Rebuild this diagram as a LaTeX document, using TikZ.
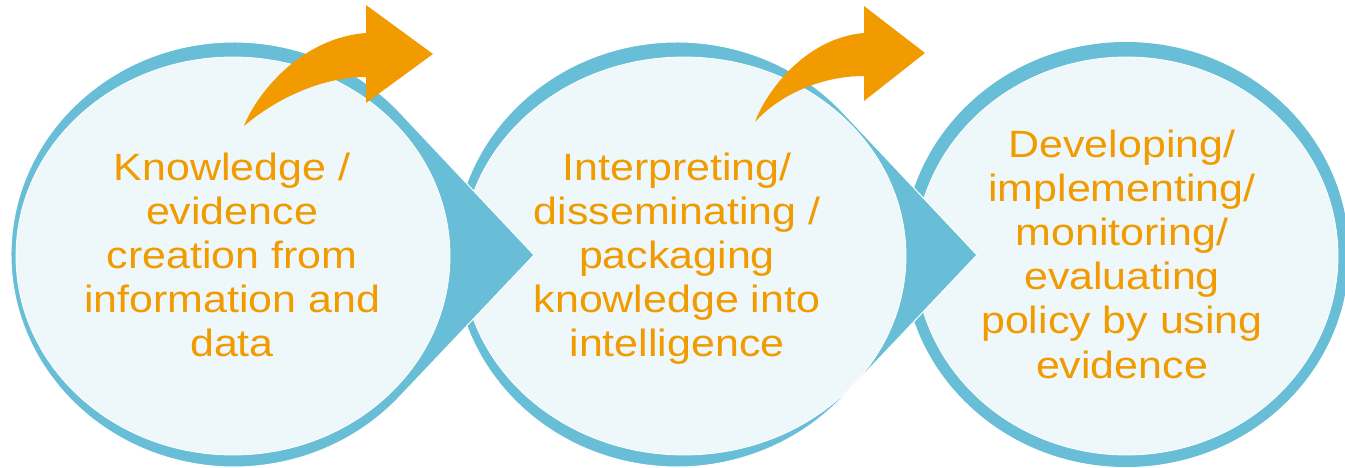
\documentclass[tikz,border=0pt]{standalone}
\usepackage{fontspec}
\usepackage{xcolor}
\newfontfamily\lblfont{Liberation Sans}[FakeStretch=1.13]
\definecolor{ringblue}{RGB}{103,190,214}
\definecolor{paleblue}{RGB}{238,247,250}
\definecolor{bendorange}{RGB}{242,155,0}
\tikzset{
  drop/.style={fill=ringblue, draw=white, line width=1pt},
  core/.style={fill=paleblue, draw=white, line width=0.8pt},
  bentarrow/.style={fill=bendorange},
  steptext/.style={anchor=north, inner sep=0pt, align=center, text=bendorange,
    font=\lblfont\fontsize{38}{44.2}\selectfont},
}

\begin{document}
\begin{tikzpicture}[x=1pt, y=-1pt]
\useasboundingbox (0,0) rectangle (1345,468);
% last step, a plain ring
\fill[ringblue] (1126,254.5) ellipse[x radius=223, y radius=212.5];
\filldraw[core] (1126.5,256) ellipse[x radius=211.5, y radius=199];
% middle step
\filldraw[drop] (977,255) -- (842.7,112.3) arc[start angle=-42, end angle=-318, x radius=223, y radius=212.5] -- cycle;
\filldraw[core] (684,256) ellipse[x radius=222, y radius=199];
% first step
\filldraw[drop] (534,255) -- (399.7,112.3) arc[start angle=-42, end angle=-318, x radius=223, y radius=212.5] -- cycle;
\filldraw[core] (233,256) ellipse[x radius=217, y radius=199];
% bent arrows
\fill[bentarrow] (244,126) .. controls (256,95) and (300,38) .. (366,33) -- (366,5) -- (433,54)
  -- (366,103) -- (366,77) .. controls (318,77) and (272,102) .. (244,126) -- cycle;
\fill[bentarrow] (755,122) .. controls (766,92) and (805,38) .. (864,33) -- (864,6) -- (925,53)
  -- (864,101) -- (864,76) .. controls (820,76) and (778,96) .. (755,122) -- cycle;
% labels
\node[steptext] (know) at (232,152.3) {Knowledge /\\evidence\\creation from\\information and\\data};
\node[steptext] (interp) at (677,152.3) {Interpreting/\\disseminating /\\packaging\\knowledge into\\intelligence};
\node[steptext] (devel) at (1122,129.3) {Developing/\\implementing/\\monitoring/\\evaluating\\policy by using\\evidence};
\end{tikzpicture}
\end{document}
